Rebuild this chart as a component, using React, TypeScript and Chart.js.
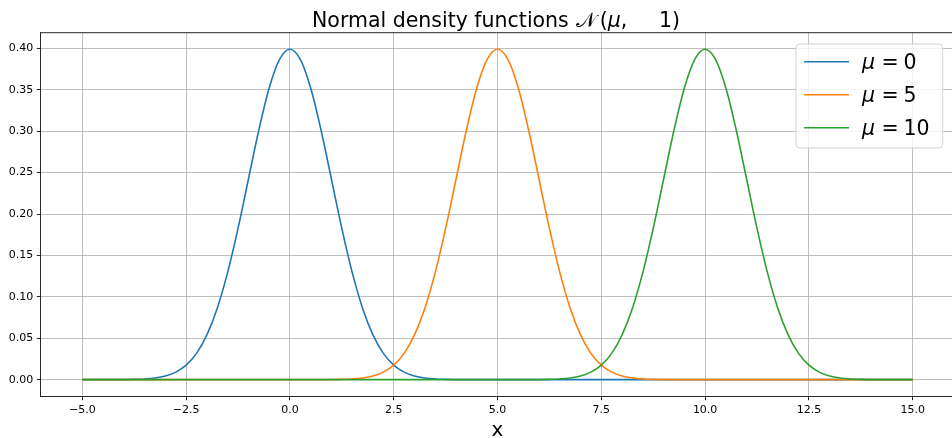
import React, { useEffect, useRef } from "react";
import { Chart, registerables } from "chart.js";

Chart.register(...registerables);

// x grid (step 0.25 from -5 to 15)
const xs = [
  -5, -4.75, -4.5, -4.25, -4, -3.75, -3.5, -3.25, -3, -2.75, -2.5, -2.25, -2, -1.75, -1.5, -1.25,
  -1, -0.75, -0.5, -0.25, 0, 0.25, 0.5, 0.75, 1, 1.25, 1.5, 1.75, 2, 2.25, 2.5, 2.75,
  3, 3.25, 3.5, 3.75, 4, 4.25, 4.5, 4.75, 5, 5.25, 5.5, 5.75, 6, 6.25, 6.5, 6.75,
  7, 7.25, 7.5, 7.75, 8, 8.25, 8.5, 8.75, 9, 9.25, 9.5, 9.75, 10, 10.25, 10.5, 10.75,
  11, 11.25, 11.5, 11.75, 12, 12.25, 12.5, 12.75, 13, 13.25, 13.5, 13.75, 14, 14.25, 14.5, 14.75, 15,
];

const densityMu0 = [
  0, 0, 0, 0, 0.0001, 0.0004, 0.0009, 0.002, 0.0044, 0.0091, 0.0175, 0.0317, 0.054, 0.0863, 0.1295, 0.1826,
  0.242, 0.3011, 0.3521, 0.3867, 0.3989, 0.3867, 0.3521, 0.3011, 0.242, 0.1826, 0.1295, 0.0863, 0.054, 0.0317, 0.0175, 0.0091,
  0.0044, 0.002, 0.0009, 0.0004, 0.0001, 0, 0, 0, 0, 0, 0, 0, 0, 0, 0, 0,
  0, 0, 0, 0, 0, 0, 0, 0, 0, 0, 0, 0, 0, 0, 0, 0,
  0, 0, 0, 0, 0, 0, 0, 0, 0, 0, 0, 0, 0, 0, 0, 0, 0,
];

const densityMu5 = [
  0, 0, 0, 0, 0, 0, 0, 0, 0, 0, 0, 0, 0, 0, 0, 0,
  0, 0, 0, 0, 0, 0, 0, 0, 0.0001, 0.0004, 0.0009, 0.002, 0.0044, 0.0091, 0.0175, 0.0317,
  0.054, 0.0863, 0.1295, 0.1826, 0.242, 0.3011, 0.3521, 0.3867, 0.3989, 0.3867, 0.3521, 0.3011, 0.242, 0.1826, 0.1295, 0.0863,
  0.054, 0.0317, 0.0175, 0.0091, 0.0044, 0.002, 0.0009, 0.0004, 0.0001, 0, 0, 0, 0, 0, 0, 0,
  0, 0, 0, 0, 0, 0, 0, 0, 0, 0, 0, 0, 0, 0, 0, 0, 0,
];

const densityMu10 = [
  0, 0, 0, 0, 0, 0, 0, 0, 0, 0, 0, 0, 0, 0, 0, 0,
  0, 0, 0, 0, 0, 0, 0, 0, 0, 0, 0, 0, 0, 0, 0, 0,
  0, 0, 0, 0, 0, 0, 0, 0, 0, 0, 0, 0, 0.0001, 0.0004, 0.0009, 0.002,
  0.0044, 0.0091, 0.0175, 0.0317, 0.054, 0.0863, 0.1295, 0.1826, 0.242, 0.3011, 0.3521, 0.3867, 0.3989, 0.3867, 0.3521, 0.3011,
  0.242, 0.1826, 0.1295, 0.0863, 0.054, 0.0317, 0.0175, 0.0091, 0.0044, 0.002, 0.0009, 0.0004, 0.0001, 0, 0, 0, 0,
];

const seriesLabels = ["0", "5", "10"];
const seriesColors = ["#1f77b4", "#ff7f0e", "#2ca02c"];
const xTicks = [-5, -2.5, 0, 2.5, 5, 7.5, 10, 12.5, 15];
const yTicks = [0, 0.05, 0.1, 0.15, 0.2, 0.25, 0.3, 0.35, 0.4];

const W = 952;
const H = 438;
const SANS = "'DejaVu Sans', sans-serif";

const decorPlugin = {
  id: "decor",
  afterDraw(chart: any) {
    const ctx = chart.ctx as CanvasRenderingContext2D;
    const a = chart.chartArea;
    ctx.save();

    // top spine
    ctx.strokeStyle = "#000";
    ctx.lineWidth = 0.85;
    ctx.beginPath();
    ctx.moveTo(a.left, a.top);
    ctx.lineTo(a.right, a.top);
    ctx.stroke();

    // title (text + math pieces, flowed)
    const tSize = 20.5;
    const base = 26.8;
    ctx.fillStyle = "#000";
    ctx.textBaseline = "alphabetic";
    ctx.textAlign = "left";
    const put = (t: string, font: string, x: number) => {
      ctx.font = font;
      ctx.fillText(t, x, base);
      return x + ctx.measureText(t).width;
    };
    const reg = `${tSize}px ${SANS}`;
    let x = put("Normal density functions ", reg, 312);
    x = put("𝒩", `21px 'DejaVu Serif', serif`, x + 0.5);
    x = put("(", reg, x + 4);
    x = put("μ", `italic ${tSize}px ${SANS}`, x);
    put(",", reg, x);
    put("1)", reg, 659);

    // x label
    ctx.font = `20px ${SANS}`;
    ctx.textAlign = "center";
    ctx.fillText("x", (a.left + 954.2) / 2, 435.5);

    // legend
    const bx = 796, by = 44, bw = 146.7, bh = 104;
    ctx.beginPath();
    ctx.roundRect(bx, by, bw, bh, 4);
    ctx.fillStyle = "rgba(255,255,255,0.8)";
    ctx.fill();
    ctx.strokeStyle = "#cccccc";
    ctx.lineWidth = 0.85;
    ctx.stroke();

    ctx.textAlign = "left";
    seriesLabels.forEach((lab, i) => {
      const ly = 61.7 + 33 * i;
      ctx.strokeStyle = seriesColors[i];
      ctx.lineWidth = 1.6;
      ctx.beginPath();
      ctx.moveTo(804, ly);
      ctx.lineTo(849, ly);
      ctx.stroke();
      ctx.fillStyle = "#000";
      const b = ly + 7.6;
      ctx.font = `italic 20.5px ${SANS}`;
      ctx.fillText("μ", 862, b);
      ctx.font = `20.5px ${SANS}`;
      ctx.fillText("=", 881.5, b);
      ctx.fillText(lab, 903.5, b);
    });

    ctx.restore();
  },
};

export default function App() {
  const ref = useRef<HTMLCanvasElement | null>(null);

  useEffect(() => {
    document.documentElement.style.overflow = "hidden";
    document.body.style.margin = "0";
    const canvas = ref.current!;
    const series = [densityMu0, densityMu5, densityMu10];
    const tickFont = { family: SANS, size: 11 };
    const chart = new Chart(canvas, {
      type: "line",
      data: {
        datasets: series.map((ys, i) => ({
          label: `μ = ${seriesLabels[i]}`,
          data: xs.map((x, j) => ({ x, y: ys[j] })),
          borderColor: seriesColors[i],
          backgroundColor: seriesColors[i],
          borderWidth: 1.6,
          pointRadius: 0,
          fill: false,
          cubicInterpolationMode: "monotone" as const,
          order: 2 - i,
        })),
      },
      options: {
        animation: false,
        responsive: false,
        maintainAspectRatio: false,
        layout: { padding: { left: 0, right: 0, top: 32.7, bottom: 0 } },
        plugins: {
          legend: { display: false },
          tooltip: { enabled: false },
          title: { display: false },
        },
        scales: {
          x: {
            type: "linear",
            min: -6,
            max: 15.946,
            afterBuildTicks: (s: any) => {
              s.ticks = xTicks.map((v) => ({ value: v }));
            },
            afterFit: (s: any) => {
              s.height = 41.8;
            },
            grid: {
              color: "#b0b0b0",
              lineWidth: 0.8,
              tickColor: "#000",
              tickLength: 4,
              tickWidth: 0.85,
            },
            border: { color: "#000", width: 0.85 },
            ticks: {
              font: tickFont,
              color: "#000",
              padding: 3,
              maxRotation: 0,
              autoSkip: false,
              callback: (v: any) => Number(v).toFixed(1).replace("-", "\u2212"),
            },
          },
          y: {
            type: "linear",
            min: -0.01995,
            max: 0.41888,
            afterBuildTicks: (s: any) => {
              s.ticks = yTicks.map((v) => ({ value: v }));
            },
            afterFit: (s: any) => {
              s.width = 40.8;
            },
            grid: {
              color: "#b0b0b0",
              lineWidth: 0.8,
              tickColor: "#000",
              tickLength: 4,
              tickWidth: 0.85,
            },
            border: { color: "#000", width: 0.85 },
            ticks: {
              font: tickFont,
              color: "#000",
              padding: 3.5,
              autoSkip: false,
              callback: (v: any) => Number(v).toFixed(2),
            },
          },
        },
      },
      plugins: [decorPlugin],
    });
    return () => chart.destroy();
  }, []);

  return (
    <div style={{ position: "absolute", left: 0, top: 0, width: W, height: H }}>
      <canvas ref={ref} width={W} height={H} style={{ width: W, height: H, display: "block" }} />
    </div>
  );
}
